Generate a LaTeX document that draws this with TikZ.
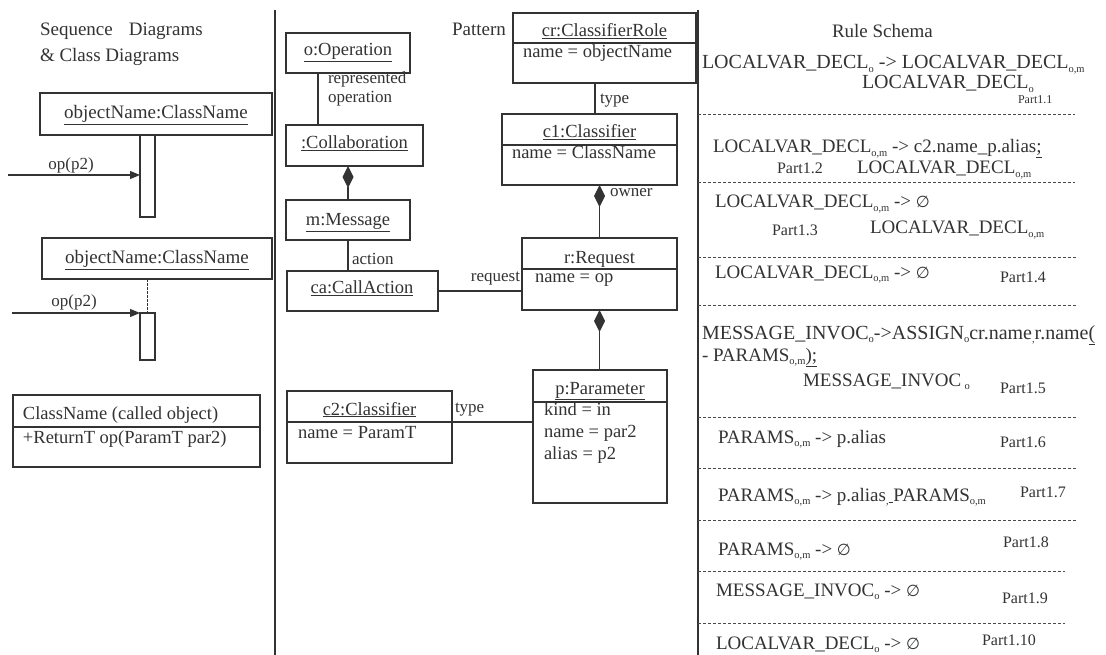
\documentclass[tikz,border=0pt]{standalone}
\usepackage{fontspec}
\setmainfont{Liberation Serif}
\newfontfamily\symfam{DejaVu Sans}
\usetikzlibrary{arrows.meta,fit}
\definecolor{ink}{HTML}{333333}
\definecolor{rulegray}{HTML}{4A4A4A}
\newcommand\fs[1]{\fontsize{#1}{#1}\selectfont}
\newcommand\sub[1]{\raisebox{-0.4ex}{\fontsize{10.5}{10.5}\selectfont #1}}
\newcommand\empt{{\symfam\fontsize{16}{16}\selectfont ∅}}
\newcommand\yields{\ ->\ }

\begin{document}
\begin{tikzpicture}[x=1pt,y=-1pt,
  every node/.style={inner sep=0pt, outer sep=0pt, text=ink},
  box/.style={draw=ink, line width=1.4pt},
  boxline/.style={draw=ink, line width=1.4pt},
  link/.style={draw=ink, line width=1.3pt},
  msg/.style={draw=ink, line width=1.1pt, -{Triangle[length=10pt,width=8pt]}},
  lifeline/.style={draw=ink, line width=1.1pt, dash pattern=on 2.5pt off 1.5pt},
  comp/.style={draw=ink, line width=1.3pt, {Diamond[length=22pt,width=11pt]}-},
  divider/.style={draw=ink, line width=1.4pt},
  sepline/.style={draw=rulegray, line width=1pt, dash pattern=on 3pt off 2pt},
  title/.style={font=\fs{19}},
  attr/.style={font=\fs{18.5}},
  lbl/.style={font=\fs{17}},
  rule/.style={font=\fs{19}, anchor=base west},
  part/.style={font=\fs{16}, anchor=base west}
]
\useasboundingbox (0,0) rectangle (1106,655);
\fill[white] (0,0) rectangle (1106,655);

% panel dividers
\coordinate (dvAtop) at (275,10);  \coordinate (dvAbot) at (275,655);
\coordinate (dvBtop) at (698,10);  \coordinate (dvBbot) at (698,655);
\draw[divider] (dvAtop) -- (dvAbot);
\draw[divider] (dvBtop) -- (dvBbot);

% ---------------- sequence and class diagrams ----------------
\node[title, anchor=base west] (headA) at (40,36) {Sequence\hspace{16pt}Diagrams};
\node[title, anchor=base west] (headB) at (40,62) {\& Class Diagrams};

\node[box, fit={(40,93)(272,135)}] (lifeA) {};
\node[title, anchor=base] (lifeAt) at (156,119) {\underline{objectName:ClassName}};
\node[box, fit={(140,135)(155,217)}] (barA) {};
\coordinate (inA) at (8,175);
\draw[msg] (inA) -- (inA -| barA.west);
\node[lbl, anchor=base] (opA) at (71,170) {op(p2)};

\node[box, fit={(42,238)(272,279)}] (lifeB) {};
\node[title, anchor=base] (lifeBt) at (157,264) {\underline{objectName:ClassName}};
\node[box, fit={(140,313)(155,360)}] (barB) {};
\draw[lifeline] (barB.north |- lifeB.south) -- (barB.north);
\coordinate (inB) at (12,313);
\draw[msg] (inB) -- (inB -| barB.west);
\node[lbl, anchor=base] (opB) at (74,306) {op(p2)};

\node[box, fit={(13,395)(260,467)}] (called) {};
\draw[boxline] (13,427) -- (260,427);
\node[attr, anchor=base west] (calledt) at (23,419) {ClassName (called object)};
\node[attr, anchor=base west] (calledop) at (23,443) {+ReturnT op(ParamT par2)};

% ---------------- pattern ----------------
\node[title, anchor=base west] (pattern) at (452,36) {Pattern};

\node[box, fit={(286,33)(410,73)}] (oper) {};
\node[attr, anchor=base] (opert) at (348,56) {\underline{o:Operation}};

\node[box, fit={(286,125)(423,166)}] (collab) {};
\node[attr, anchor=base] (collabt) at (354.5,149) {\underline{:Collaboration}};
\coordinate (repx) at (318,0);
\draw[link] (oper.south -| repx) -- (collab.north -| repx);
\node[lbl, anchor=base west] (rep1) at (328,84) {represented};
\node[lbl, anchor=base west] (rep2) at (328,103) {operation};

\node[box, fit={(286,200)(410,240)}] (mess) {};
\node[attr, anchor=base] (messt) at (348,226) {\underline{m:Message}};
\draw[comp] (collab.south -| mess.north) -- (mess.north);

\node[box, fit={(287,271)(438,311)}] (call) {};
\node[attr, anchor=base] (callt) at (362,294) {\underline{ca:CallAction}};
\draw[link] (mess.south) -- (mess.south |- call.north);
\node[lbl, anchor=base west] (actionl) at (352,265) {action};

\node[box, fit={(513,13)(696,83)}] (role) {};
\draw[boxline] (513,43) -- (696,43);
\node[attr, anchor=base] (rolet) at (604.5,37) {\underline{cr:ClassifierRole}};
\node[attr, anchor=base west] (rolea) at (523,58) {name = objectName};

\node[box, fit={(502,114)(677,185)}] (cla) {};
\draw[boxline] (502,145) -- (677,145);
\node[attr, anchor=base] (clat) at (589.5,138) {\underline{c1:Classifier}};
\node[attr, anchor=base west] (claa) at (512,159) {name = ClassName};
\coordinate (typex) at (595,0);
\draw[link] (role.south -| typex) -- (cla.north -| typex);
\node[lbl, anchor=base west] (typeA) at (600,104) {type};

\node[box, fit={(522,238)(677,310)}] (req) {};
\draw[boxline] (522,269) -- (677,269);
\node[attr, anchor=base] (reqt) at (599.5,263) {\underline{r:Request}};
\node[attr, anchor=base west] (reqa) at (535,283) {name = op};
\draw[comp] (cla.south -| req.north) -- (req.north);
\node[lbl, anchor=base west] (ownerl) at (610,197) {owner};

\draw[link] (call.east) -- (call.east -| req.west);
\node[lbl, anchor=base east] (reql) at (520,281) {request};

\node[box, fit={(533,370)(667,503)}] (par) {};
\draw[boxline] (533,402) -- (667,402);
\node[attr, anchor=base] (part) at (600,394) {\underline{p:Parameter}};
\node[attr, anchor=base west] (para) at (544,415) {kind = in};
\node[attr, anchor=base west] (parb) at (544,437) {name = par2};
\node[attr, anchor=base west] (parc) at (544,459) {alias = p2};
\draw[comp] (req.south) -- (req.south |- par.north);

\node[box, fit={(287,391)(452,463)}] (clb) {};
\draw[boxline] (287,422) -- (452,422);
\node[attr, anchor=base] (clbt) at (369.5,415) {\underline{c2:Classifier}};
\node[attr, anchor=base west] (clba) at (298,438) {name = ParamT};
\coordinate (typey) at (0,422);
\draw[link] (clb.east |- typey) -- (par.west |- typey);
\node[lbl, anchor=base west] (typeB) at (455,412) {type};

% ---------------- rule schema ----------------
\node[title, anchor=base west] (schema) at (832,38) {Rule Schema};

\node[rule, font=\fs{20}] (r1a) at (702,69) {LOCALVAR\_DECL\sub{o}\yields LOCALVAR\_DECL\sub{o,m}};
\node[rule, font=\fs{20}] (r1b) at (862,89) {LOCALVAR\_DECL\sub{o}};
\node[part, font=\fs{12}] (p1) at (1018,104) {Part1.1};
\draw[sepline] (698,115) -- (1075,115);

\node[rule] (r2a) at (713,153) {LOCALVAR\_DECL\sub{o,m} -> c2.name\_p.alias\underline{;}};
\node[part] (p2) at (777,174) {Part1.2};
\node[rule] (r2b) at (857,174) {LOCALVAR\_DECL\sub{o,m}};
\draw[sepline] (698,183) -- (1075,183);

\node[rule] (r3a) at (715,208) {LOCALVAR\_DECL\sub{o,m} -> \empt};
\node[part] (p3) at (772,236) {Part1.3};
\node[rule] (r3b) at (870,234) {LOCALVAR\_DECL\sub{o,m}};
\draw[sepline] (698,258) -- (1078,258);

\node[rule] (r4a) at (715,278) {LOCALVAR\_DECL\sub{o,m} -> \empt};
\node[part] (p4) at (1000,283) {Part1.4};
\draw[sepline] (698,305) -- (1078,305);

\node[rule, font=\fs{20}] (r5a) at (702,339) {MESSAGE\_INVOC\sub{o}->ASSIGN\sub{o}cr.name\sub{,}r.name\underline{(}};
\node[rule] (r5b) at (702,361) {- PARAMS\sub{o,m}\underline{);}};
\node[rule] (r5c) at (803,386) {MESSAGE\_INVOC\,\sub{o}};
\node[part] (p5) at (1000,393) {Part1.5};
\draw[sepline] (698,417) -- (1078,417);

\node[rule] (r6a) at (718,443) {PARAMS\sub{o,m} -> p.alias};
\node[part] (p6) at (1000,447) {Part1.6};
\draw[sepline] (698,468) -- (1078,468);

\node[rule] (r7a) at (718,501) {PARAMS\sub{o,m} -> p.alias\sub{,}\underline{\ }PARAMS\sub{o,m}};
\node[part] (p7) at (1020,497) {Part1.7};
\draw[sepline] (698,520) -- (1077,520);

\node[rule] (r8a) at (718,555) {PARAMS\sub{o,m} -> \empt};
\node[part] (p8) at (1003,547) {Part1.8};
\draw[sepline] (698,571) -- (1065,571);

\node[rule] (r9a) at (716,596) {MESSAGE\_INVOC\sub{o} -> \empt};
\node[part] (p9) at (1002,603) {Part1.9};
\draw[sepline] (698,623) -- (1065,623);

\node[rule] (r10a) at (716,649) {LOCALVAR\_DECL\sub{o} -> \empt};
\node[part] (p10) at (982,645) {Part1.10};
\end{tikzpicture}
\end{document}
